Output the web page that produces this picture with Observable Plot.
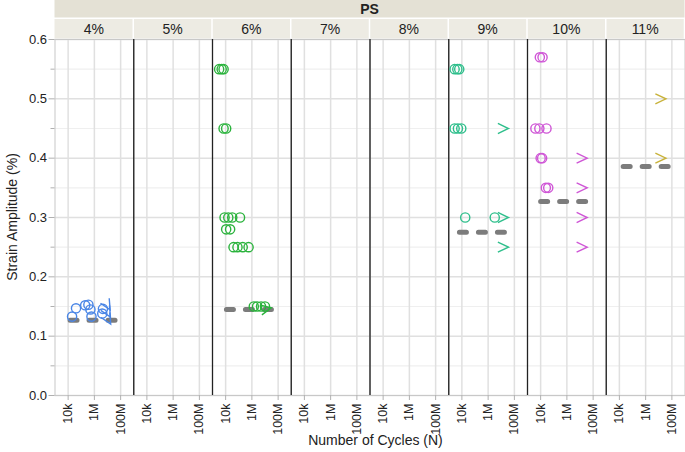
<!DOCTYPE html>
<html><head><meta charset="utf-8">
<script src="https://cdn.jsdelivr.net/npm/d3@7"></script>
<script src="https://cdn.jsdelivr.net/npm/@observablehq/plot@0.6"></script>
<style>
body{margin:0;background:#fff}
svg{font-family:"Liberation Sans",Arial,Helvetica,sans-serif}
</style>
</head><body><div id="chart"></div>
<script>
// ---- data ----
const facets = ["4%","5%","6%","7%","8%","9%","10%","11%"];
const facetColors = ["#4a86e6","#888888","#2bb33d","#888888","#888888","#2fbf8c","#cf56d6","#c8b23a"];
const stripTitle = "PS";

// failures (circles)
const failFacet = [
  "4%","4%","4%","4%","4%","4%","4%","4%",
  "6%","6%","6%","6%","6%","6%","6%","6%","6%","6%","6%","6%","6%","6%","6%","6%","6%","6%","6%",
  "9%","9%","9%","9%","9%","9%","9%","9%",
  "10%","10%","10%","10%","10%","10%","10%","10%","10%"
];
const failCycles = [
  20000,40000,200000,350000,500000,600000,4000000,4500000,
  3200,5000,7000, 7000,11000, 8300,16000,32000,125000, 11000,22000, 40000,80000,200000,560000, 1400000,2500000,5000000,10000000,
  2800,4500,6300, 2800,5000,9000, 18000,3200000,
  8700,14000, 4000,8000,28000, 10000,13000, 25000,38000
];
const failStrain = [
  0.133,0.147,0.152,0.153,0.145,0.133,0.138,0.146,
  0.55,0.55,0.55, 0.45,0.45, 0.30,0.30,0.30,0.30, 0.28,0.28, 0.25,0.25,0.25,0.25, 0.15,0.15,0.15,0.15,
  0.55,0.55,0.55, 0.45,0.45,0.45, 0.30,0.30,
  0.57,0.57, 0.45,0.45,0.45, 0.40,0.40, 0.35,0.35
];

// run-outs (arrows)
const runoutFacet  = ["4%","4%","4%","6%","9%","9%","9%","10%","10%","10%","10%","11%","11%"];
const runoutCycles = [10000000,10500000,11000000,12000000,14000000,14000000,14000000,14000000,14000000,14000000,14000000,14000000,14000000];
const runoutStrain = [0.152,0.140,0.128,0.146,0.45,0.30,0.25,0.40,0.35,0.30,0.25,0.50,0.40];
const runoutAngle  = [60,60,60,-12,0,0,0,0,0,0,0,0,0];

// fatigue limit (dashed lines)
const limitFacet  = ["4%","6%","9%","10%","11%"];
const limitStrain = [0.127,0.145,0.275,0.327,0.386];
const limitFrom   = [14000,11500,6500,10000,19500];
const limitTo     = [40000000,33000000,18500000,29000000,56000000];

const yTicks = [0,0.1,0.2,0.3,0.4,0.5,0.6];
const yMinor = [0.05,0.15,0.25,0.35,0.45,0.55];
const xTicks = [1e4,1e6,1e8];
const xTickLabels = ["10k","1M","100M"];
const xDomain = [1e3,1e9];
const yDomain = [0,0.6];
const xTitle = "Number of Cycles (N)";
const yTitle = "Strain Amplitude (%)";

// ---- tables ----
const fails = failFacet.map((f,i)=>({facet:f, n:failCycles[i], s:failStrain[i]}));
const runouts = runoutFacet.map((f,i)=>({facet:f, n:runoutCycles[i], s:runoutStrain[i], a:runoutAngle[i]}));
const limits = limitFacet.map((f,i)=>({facet:f, s:limitStrain[i], n1:limitFrom[i], n2:limitTo[i]}));

const arrow = {draw(ctx, size){ const r = Math.sqrt(size/Math.PI); ctx.moveTo(-r,-r*0.95); ctx.lineTo(r,0); ctx.lineTo(-r,r*0.95); }};

const W=685, H=452, mL=54.5, mR=0.5, mT=39, mB=57;

const plot = Plot.plot({
  width: W, height: H, marginLeft: mL, marginRight: mR, marginTop: mT, marginBottom: mB,
  style: {fontFamily: '"Liberation Sans",Arial,sans-serif', fontSize: "12px", color: "#222", background: "#fff"},
  fx: {domain: facets, padding: 0, round: false, axis: null},
  x: {type: "log", domain: xDomain},
  y: {domain: yDomain},
  color: {domain: facets, range: facetColors},
  marks: [
    Plot.gridY(yMinor, {stroke: "#efefef", strokeOpacity: 1, strokeWidth: 1.2}),
    Plot.gridY(yTicks, {stroke: "#e0e0e0", strokeOpacity: 1, strokeWidth: 1.5}),
    Plot.gridX(xTicks, {stroke: "#e0e0e0", strokeOpacity: 1, strokeWidth: 1.5}),
    Plot.frame({stroke: "#c8c8c8"}),
    Plot.ruleX(facets.slice(1), {fx: d => d, x: () => xDomain[0], stroke: "#222", strokeWidth: 1.3}),
    Plot.axisY(yMinor, {tickSize: 4, tickFormat: () => "", stroke: "#b0b0b0", label: null}),
    Plot.axisY(yTicks, {tickSize: 6, tickPadding: 2, tickFormat: d3.format(".1f"), fontSize: 13, stroke: "#b0b0b0", fill: "#222", label: null}),
    Plot.axisX(xTicks, {tickSize: 5, tickPadding: 3, tickRotate: -90, fontSize: 12.5, stroke: "#b0b0b0", fill: "#222",
      tickFormat: d => xTickLabels[xTicks.indexOf(d)], label: null}),
    Plot.link(limits, {fx: "facet", x1: "n1", x2: "n2", y1: "s", y2: "s", stroke: "#7c7c7c", strokeWidth: 5,
      strokeLinecap: "round", strokeDasharray: "7,12"}),
    Plot.dot(fails, {fx: "facet", x: "n", y: "s", stroke: "facet", r: 4.6, strokeWidth: 1.4, fill: "none"}),
    Plot.dot(runouts, {fx: "facet", x: "n", y: "s", stroke: "facet", r: 5.3, strokeWidth: 1.4, fill: "none", symbol: arrow, rotate: "a"})
  ]
});

const svg = d3.select(plot);
const fw = (W - mL - mR) / facets.length;
const hdr = svg.insert("g", ":first-child");
hdr.append("rect").attr("x", mL).attr("y", 0).attr("width", W - mL - mR).attr("height", 17.5).attr("fill", "#e4e1d5");
facets.forEach((f, i) => {
  hdr.append("rect").attr("x", mL + i*fw + (i ? 0.75 : 0)).attr("y", 19).attr("width", fw - (i ? 1.5 : 0.75)).attr("height", mT - 19.5).attr("fill", "#edebe3");
});
const txt = svg.append("g").attr("fill", "#222").attr("font-family", '"Liberation Sans",Arial,sans-serif');
txt.append("text").attr("x", mL + (W - mL - mR)/2).attr("y", 9.5).attr("dy", "0.35em").attr("text-anchor", "middle")
  .attr("font-size", 14).attr("font-weight", "bold").text(stripTitle);
facets.forEach((f, i) => {
  txt.append("text").attr("x", mL + (i + 0.5)*fw).attr("y", 29).attr("dy", "0.35em").attr("text-anchor", "middle")
    .attr("font-size", 14).text(f);
});
txt.append("text").attr("x", mL + (W - mL - mR)/2 + 6).attr("y", 445).attr("text-anchor", "middle").attr("font-size", 14).text(xTitle);
txt.append("text").attr("transform", `translate(17,${mT + (H - mT - mB)/2}) rotate(-90)`).attr("text-anchor", "middle").attr("font-size", 14).text(yTitle);

document.getElementById("chart").append(plot);
</script>
</body></html>
